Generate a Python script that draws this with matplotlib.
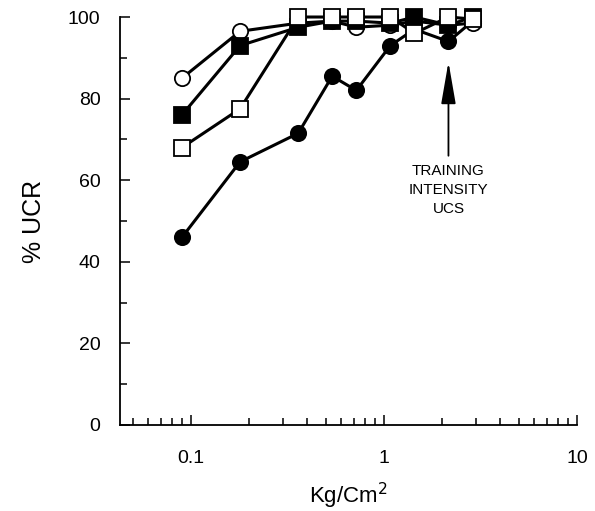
import matplotlib
matplotlib.use("Agg")
import matplotlib.pyplot as plt
from matplotlib.ticker import LogLocator, FixedLocator, NullFormatter

plt.rcParams['font.family'] = ['Liberation Sans', 'DejaVu Sans']

# stimulus intensity (kg/cm^2)
intensity = [0.09, 0.18, 0.36, 0.54, 0.72, 1.08, 1.44, 2.16, 2.88]

# % UCR per group
filled_circle = [46, 64.5, 71.5, 85.5, 82, 93, 97, 94, 99]
open_circle = [85, 96.5, 98.5, 99, 97.5, 98, 99, 98, 98.5]
open_square = [68, 77.5, 100, 100, 100, 100, 96, 100, 99.5]
filled_square = [76, 93, 97.5, 99, 99, 98.5, 100, 98, 100]

y_ticks = [0, 20, 40, 60, 80, 100]
x_ticks = [0.1, 1, 10]
x_tick_labels = ["0.1", "1", "10"]

fig = plt.figure(figsize=(5.95, 5.11), dpi=100)
ax = fig.add_axes([0.2017, 0.1683, 0.768, 0.7984])

line_kw = dict(color="black", lw=2.2, markersize=11, markeredgewidth=1.3,
               markeredgecolor="black", clip_on=False)
ax.plot(intensity, filled_circle, marker="o", markerfacecolor="black", **line_kw)
ax.plot(intensity, open_circle, marker="o", markerfacecolor="white", **line_kw)
ax.plot(intensity, filled_square, marker="s", markerfacecolor="black", **line_kw)
ax.plot(intensity, open_square, marker="s", markerfacecolor="white", **line_kw)

ax.set_xscale("log")
ax.set_xlim(0.043, 10)
ax.set_ylim(0, 100)

ax.set_xticks(x_ticks)
ax.set_xticklabels(x_tick_labels)
ax.xaxis.set_minor_locator(LogLocator(base=10, subs=range(2, 10)))
ax.xaxis.set_minor_formatter(NullFormatter())
ax.set_yticks(y_ticks)
ax.yaxis.set_minor_locator(FixedLocator(range(10, 100, 20)))

ax.tick_params(axis="both", which="major", direction="in", length=7, width=1.1,
               labelsize=14)
ax.tick_params(axis="both", which="minor", direction="in", length=5, width=1.1)
ax.tick_params(axis="y", which="major", pad=14)
ax.tick_params(axis="x", which="major", pad=18)

for side in ["top", "right"]:
    ax.spines[side].set_visible(False)
for side in ["left", "bottom"]:
    ax.spines[side].set_linewidth(1.3)

ax.set_ylabel("% UCR", fontsize=18, labelpad=16)
ax.set_xlabel("Kg/Cm$^2$", fontsize=16, labelpad=10)

# training intensity arrow
ax.annotate("", xy=(2.16, 89), xytext=(2.16, 66),
            arrowprops=dict(arrowstyle="-|>,head_length=2.6,head_width=0.45",
                            color="black", lw=1.3, shrinkA=0, shrinkB=0))
ax.text(2.16, 64, "TRAINING\nINTENSITY\nUCS", ha="center", va="top",
        fontsize=11, linespacing=1.45)

fig.savefig("out.png", dpi=100)
